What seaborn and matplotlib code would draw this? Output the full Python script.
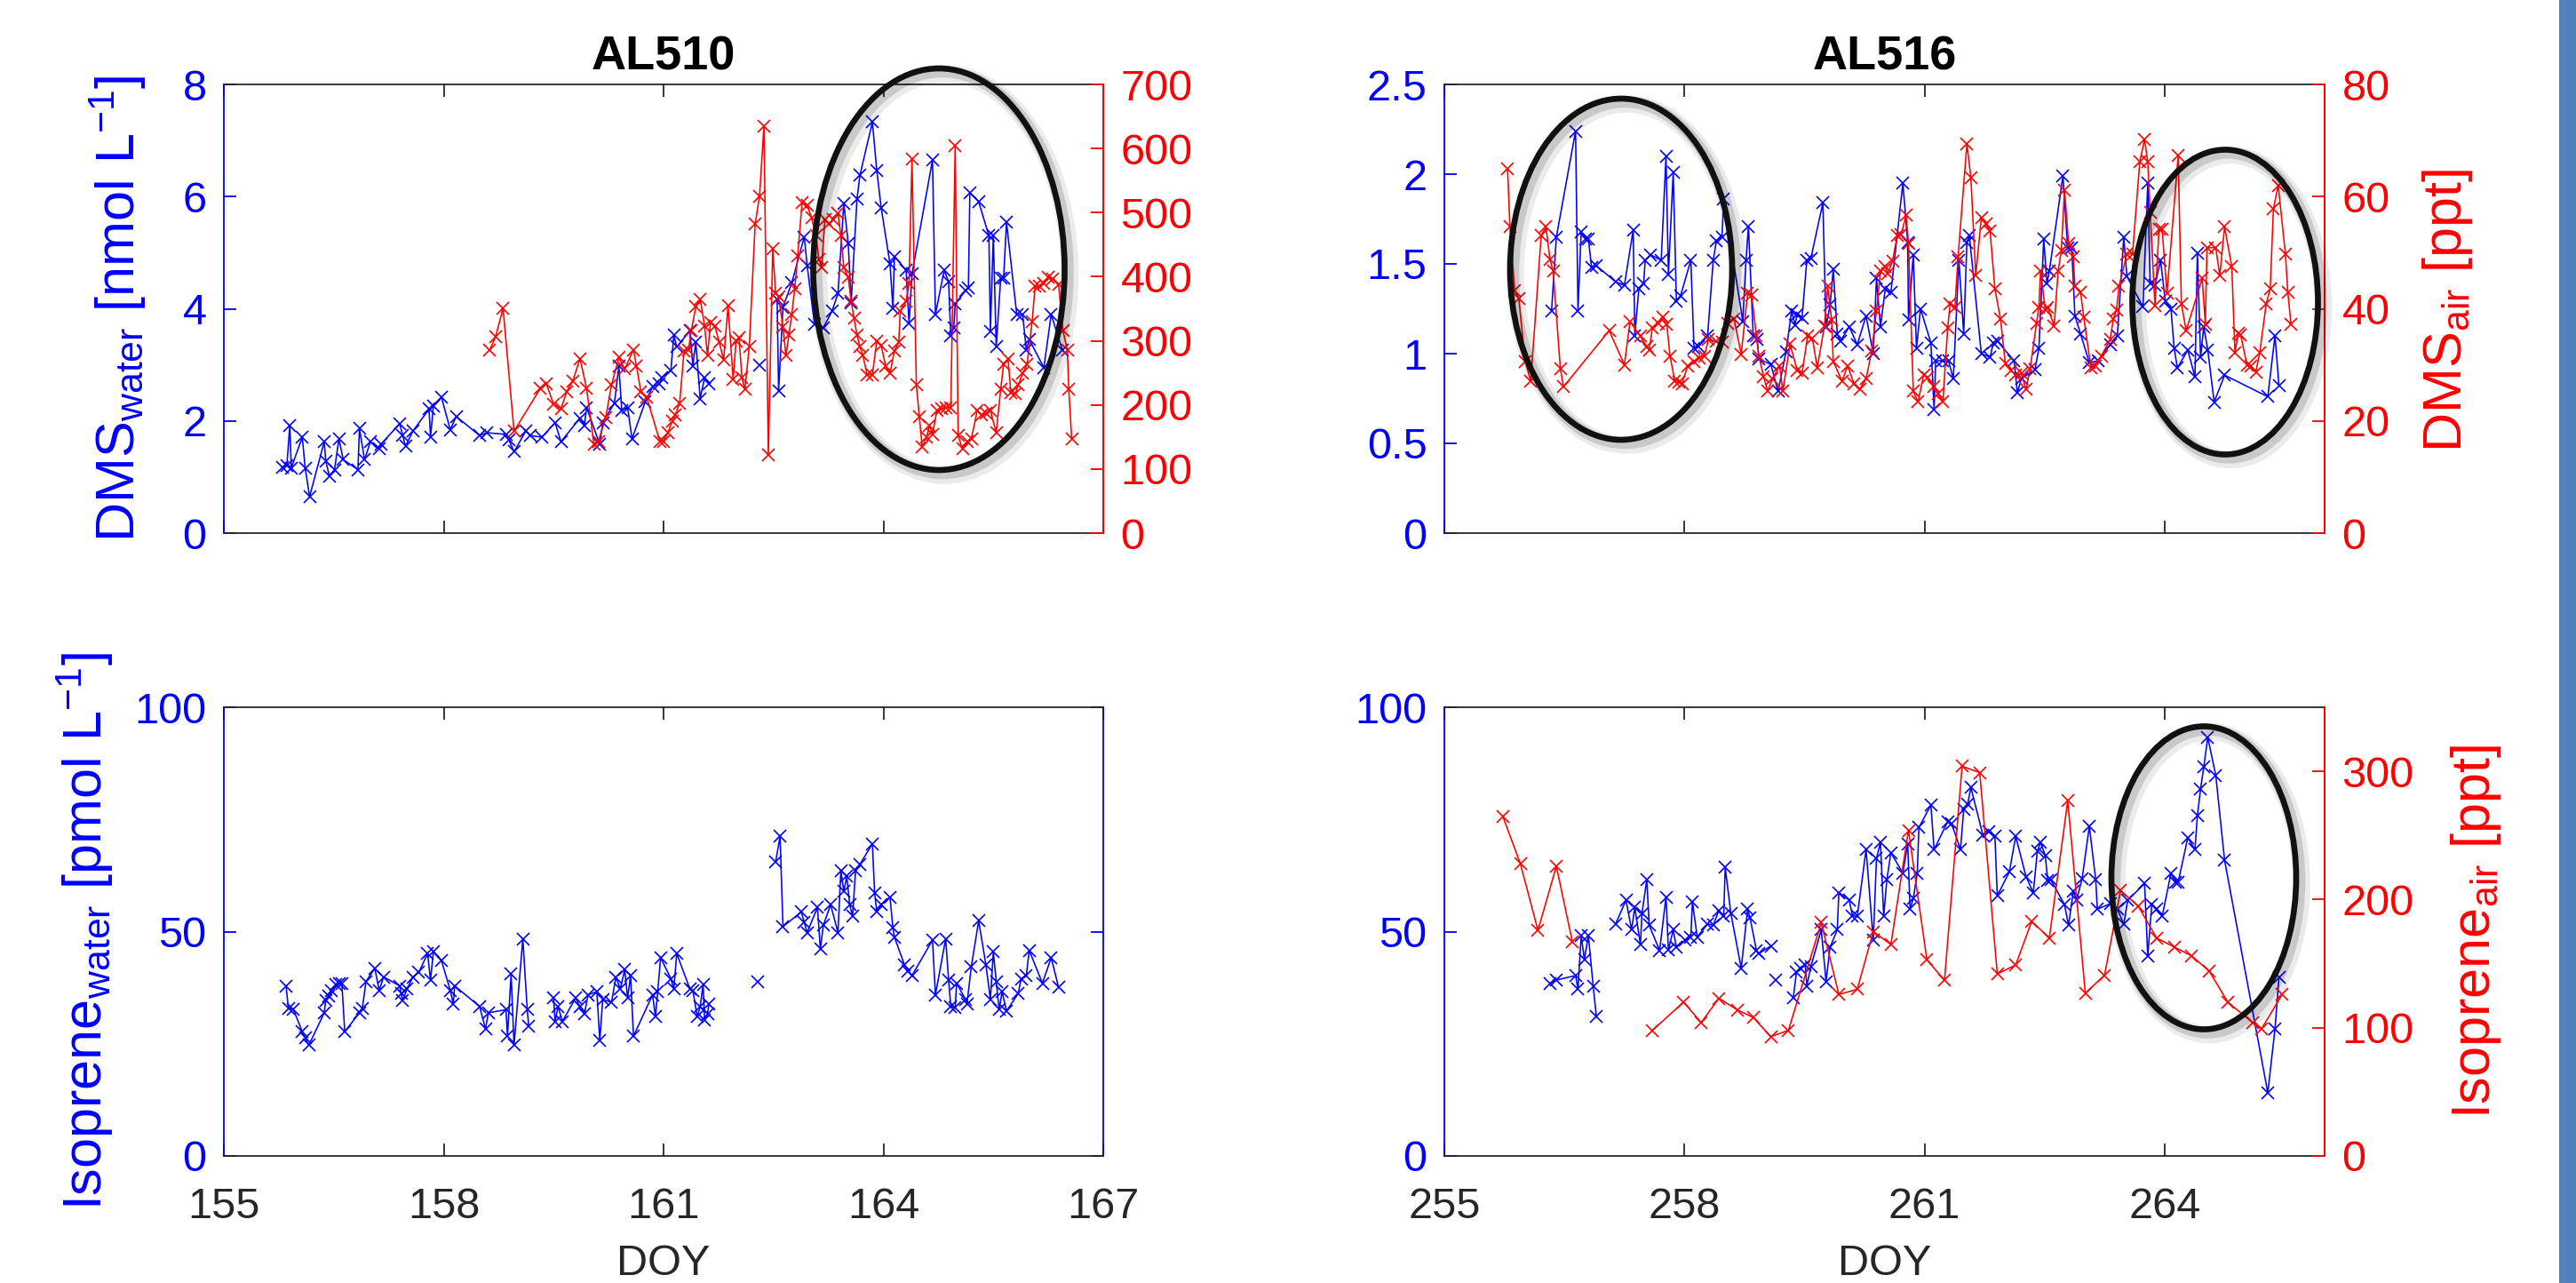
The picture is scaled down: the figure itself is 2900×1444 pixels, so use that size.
import numpy as np
import pandas as pd
import matplotlib
matplotlib.use("Agg")
import matplotlib.pyplot as plt
import seaborn as sns
from matplotlib.patches import Ellipse, Rectangle

nan = np.nan

# ---------------- AL510 DMS ----------------
al510_dms_water_doy = [155.80, 155.86, 155.90, 155.92, 156.07, 156.11, 156.17, 156.37, 156.39, 156.44,
    156.51, 156.57, 156.63, 156.83, 156.85, 156.92, 157.00, 157.12, 157.14, 157.40,
    157.44, 157.48, 157.58, 157.80, 157.82, 157.86, 157.97, 158.09, 158.17, 158.49,
    158.59, 158.85, 158.89, 158.96, 159.12, 159.18, 159.34, 159.52, 159.60, 159.86,
    159.92, 159.95, 160.13, 160.17, 160.33, 160.39, 160.43, 160.51, 160.57, 160.75,
    160.85, 160.94, 160.98, 161.10, 161.14, 161.18, 161.36, 161.40, 161.44, 161.50,
    161.56, 161.62, nan, 162.31, nan, 162.55, 162.57, 162.63, 162.75, 162.92,
    162.96, 163.06, 163.18, 163.30, 163.38, 163.46, 163.52, 163.56, 163.64, 163.68,
    163.85, 163.91, 163.97, 164.09, 164.13, 164.15, 164.31, 164.35, 164.39, 164.67,
    164.71, 164.83, 164.89, 164.92, 164.96, 164.98, 165.12, 165.16, 165.18, 165.30,
    165.44, 165.46, 165.50, 165.54, 165.60, 165.64, 165.68, 165.82, 165.90, 165.95,
    165.99, 166.19, 166.29, 166.44]
al510_dms_water = [1.18, 1.21, 1.92, 1.16, 1.71, 1.16, 0.65, 1.63, 1.29, 1.02,
    1.13, 1.68, 1.31, 1.13, 1.87, 1.31, 1.63, 1.50, 1.58, 1.95,
    1.74, 1.55, 1.82, 2.21, 1.71, 2.27, 2.42, 1.84, 2.08, 1.74,
    1.79, 1.76, 1.66, 1.45, 1.82, 1.74, 1.71, 1.97, 1.63, 2.05,
    1.92, 2.24, 1.58, 1.97, 2.32, 2.98, 2.19, 2.24, 1.68, 2.34,
    2.61, 2.66, 2.77, 2.90, 3.53, 3.32, 3.61, 2.98, 3.40, 2.40,
    2.77, 2.66, nan, 3.00, nan, 4.17, 2.53, 4.03, 4.46, 5.28,
    4.77, 3.72, 3.66, 3.96, 4.27, 5.88, 5.17, 4.11, 5.96, 6.38,
    7.33, 6.46, 5.80, 4.80, 4.01, 4.93, 4.69, 3.74, 4.62, 6.65,
    3.90, 4.69, 4.48, 3.51, 3.66, 4.09, 4.32, 4.38, 6.07, 5.91,
    5.30, 3.59, 5.30, 3.32, 4.54, 4.54, 5.54, 3.90, 3.90, 3.27,
    3.45, 2.95, 3.90, 3.27]

al510_dms_air_doy = [158.63, 158.71, 158.81, 158.96, 159.32, 159.40, 159.50, 159.60, 159.68, 159.76,
    159.86, 159.95, 160.05, 160.11, 160.21, 160.29, 160.39, 160.47, 160.59, 160.63,
    160.69, 160.77, 160.95, 161.00, 161.06, 161.12, 161.16, 161.22, 161.28, 161.34,
    161.38, 161.44, 161.50, 161.56, 161.60, 161.64, 161.70, 161.76, 161.82, 161.88,
    161.95, 161.99, 162.03, 162.07, 162.11, 162.17, 162.25, 162.31, 162.37, 162.43,
    162.49, 162.53, 162.57, 162.63, 162.67, 162.71, 162.75, 162.79, 162.83, 162.89,
    162.96, 163.02, 163.08, 163.12, 163.16, 163.20, 163.26, 163.32, 163.38, 163.42,
    163.46, 163.52, 163.56, 163.60, 163.64, 163.68, 163.72, 163.78, 163.85, 163.91,
    163.97, 164.03, 164.09, 164.15, 164.21, 164.23, 164.31, 164.35, 164.39, 164.45,
    164.49, 164.53, 164.59, 164.63, 164.67, 164.73, 164.79, 164.85, 164.92, 164.98,
    165.02, 165.08, 165.14, 165.20, 165.28, 165.34, 165.40, 165.46, 165.54, 165.60,
    165.64, 165.70, 165.74, 165.80, 165.84, 165.90, 165.96, 166.03, 166.07, 166.13,
    166.19, 166.25, 166.31, 166.39, 166.45, 166.51, 166.53, 166.57]
al510_dms_air = [286, 307, 351, 159, 226, 233, 201, 194, 221, 237,
    272, 226, 138, 143, 180, 231, 274, 256, 286, 261,
    221, 212, 143, 143, 157, 175, 184, 203, 284, 286,
    316, 353, 365, 323, 277, 328, 323, 298, 270, 355,
    240, 300, 305, 242, 224, 291, 482, 526, 635, 122,
    443, 374, 369, 321, 277, 309, 341, 381, 432, 515,
    512, 492, 464, 427, 415, 489, 482, 489, 499, 464,
    415, 399, 362, 335, 309, 291, 277, 247, 247, 300,
    293, 261, 249, 284, 298, 346, 362, 390, 584, 231,
    182, 134, 150, 168, 154, 191, 194, 196, 196, 605,
    152, 131, 143, 147, 191, 184, 187, 191, 157, 224,
    263, 272, 219, 217, 231, 249, 263, 330, 385, 385,
    390, 399, 397, 388, 316, 286, 224, 147]

# ---------------- AL516 DMS ----------------
al516_dms_water_doy = [256.34, 256.40, 256.64, 256.67, 256.71, 256.77, 256.80, 256.84, 256.90, 257.14,
    257.25, 257.36, 257.38, 257.43, 257.49, 257.51, 257.58, 257.71, 257.77, 257.80,
    257.86, 257.90, 257.95, 258.08, 258.12, 258.17, 258.29, 258.36, 258.40, 258.47,
    258.49, 258.73, 258.77, 258.80, 258.86, 258.91, 258.93, 259.08, 259.17, 259.27,
    259.34, 259.38, 259.41, 259.47, 259.53, 259.58, 259.73, 259.77, 259.82, 259.86,
    259.91, 259.95, 260.06, 260.16, 260.27, 260.36, 260.40, 260.45, 260.51, 260.58,
    260.73, 260.79, 260.80, 260.86, 260.90, 260.95, 261.08, 261.12, 261.14, 261.23,
    261.30, 261.36, 261.43, 261.49, 261.53, 261.56, 261.71, 261.82, 261.86, 261.91,
    262.12, 262.16, 262.21, 262.38, 262.43, 262.49, 262.53, 262.56, 262.73, 262.79,
    262.84, 262.88, 262.95, 263.06, 263.17, 263.32, 263.41, 263.49, 263.53, 263.73,
    263.79, 263.82, 263.88, 263.95, 264.01, 264.08, 264.12, 264.16, 264.29, 264.38,
    264.41, 264.45, 264.49, 264.54, 264.62, 264.75, 265.29, 265.38, 265.43]
al516_dms_water = [1.24, 1.65, 2.24, 1.24, 1.68, 1.64, 1.64, 1.48, 1.49, 1.40,
    1.38, 1.69, 1.10, 1.36, 1.39, 1.52, 1.55, 1.52, 2.10, 1.44,
    2.01, 1.29, 1.32, 1.52, 1.03, 1.04, 1.10, 1.52, 1.63, 1.65,
    1.86, 1.18, 1.52, 1.71, 1.10, 1.08, 0.97, 0.94, 0.79, 1.01,
    1.24, 1.16, 1.22, 1.20, 1.52, 1.53, 1.84, 1.15, 1.27, 1.47,
    1.11, 1.07, 1.15, 1.05, 1.21, 1.00, 1.42, 1.15, 1.36, 1.34,
    1.95, 1.62, 1.19, 1.55, 1.03, 1.25, 1.06, 0.69, 0.96, 0.96,
    0.96, 0.86, 1.52, 1.11, 1.62, 1.66, 1.00, 0.98, 1.06, 1.07,
    0.96, 0.78, 0.86, 0.91, 1.03, 1.64, 1.39, 1.46, 1.99, 1.59,
    1.59, 1.21, 1.11, 0.95, 0.96, 1.05, 1.10, 1.65, 1.43, 1.26,
    1.95, 1.39, 1.38, 1.52, 1.29, 1.25, 1.03, 0.92, 1.02, 0.87,
    1.56, 0.98, 1.15, 1.02, 0.73, 0.88, 0.76, 1.10, 0.82]

al516_dms_air_doy = [255.79, 255.82, 255.88, 255.93, 256.01, 256.08, 256.21, 256.27, 256.32, 256.36,
    256.45, 256.49, 257.06, 257.25, 257.32, 257.45, 257.53, 257.56, 257.60, 257.67,
    257.73, 257.78, 257.82, 257.88, 257.93, 257.97, 258.04, 258.12, 258.19, 258.25,
    258.30, 258.40, 258.47, 258.54, 258.62, 258.71, 258.79, 258.84, 258.90, 258.93,
    258.99, 259.04, 259.10, 259.19, 259.23, 259.32, 259.41, 259.47, 259.54, 259.60,
    259.66, 259.75, 259.79, 259.84, 259.86, 259.97, 260.04, 260.12, 260.19, 260.27,
    260.34, 260.40, 260.45, 260.51, 260.54, 260.60, 260.66, 260.71, 260.77, 260.80,
    260.86, 260.92, 260.99, 261.04, 261.12, 261.17, 261.23, 261.29, 261.32, 261.38,
    261.42, 261.53, 261.58, 261.64, 261.71, 261.77, 261.82, 261.88, 261.95, 262.01,
    262.08, 262.14, 262.21, 262.27, 262.32, 262.40, 262.43, 262.45, 262.51, 262.54,
    262.62, 262.67, 262.71, 262.75, 262.80, 262.86, 262.88, 262.95, 262.99, 263.08,
    263.14, 263.21, 263.32, 263.36, 263.40, 263.43, 263.53, 263.60, 263.69, 263.75,
    263.79, 263.82, 263.88, 263.93, 263.97, 264.03, 264.17, 264.21, 264.27, 264.47,
    264.51, 264.53, 264.64, 264.69, 264.75, 264.84, 264.88, 264.92, 264.95, 265.03,
    265.08, 265.14, 265.19, 265.27, 265.32, 265.36, 265.42, 265.51, 265.54, 265.58]
al516_dms_air = [64.9, 54.6, 43.2, 41.9, 30.6, 27.1, 53.0, 54.6, 48.8, 46.7,
    29.3, 26.1, 36.1, 30.0, 37.7, 35.1, 33.2, 32.7, 36.6, 37.4,
    38.5, 37.2, 31.6, 27.1, 26.9, 26.6, 29.8, 30.6, 31.2, 31.6,
    34.5, 34.2, 34.0, 37.4, 38.2, 31.9, 42.7, 42.5, 35.1, 31.6,
    27.9, 25.3, 27.5, 29.8, 25.3, 33.7, 29.0, 28.5, 35.1, 34.7,
    29.5, 36.9, 44.0, 38.0, 30.6, 27.1, 29.8, 26.6, 25.6, 27.5,
    32.4, 39.6, 46.7, 47.5, 46.2, 48.5, 53.0, 53.3, 56.7, 51.7,
    25.3, 23.4, 28.2, 27.7, 26.1, 24.8, 23.4, 36.6, 40.9, 40.3,
    49.3, 69.4, 63.3, 45.9, 56.2, 55.1, 53.8, 43.5, 38.2, 30.3,
    29.0, 28.2, 28.5, 25.6, 29.3, 37.4, 40.3, 46.7, 39.8, 40.3,
    36.9, 46.7, 50.4, 61.2, 51.7, 49.3, 44.0, 43.0, 38.5, 29.5,
    29.8, 31.6, 34.5, 38.2, 39.8, 44.0, 49.8, 49.8, 66.2, 70.2,
    66.2, 57.2, 40.6, 54.1, 54.1, 42.7, 67.3, 40.9, 36.1, 45.4,
    37.2, 50.9, 50.9, 45.9, 54.6, 47.5, 32.2, 35.6, 35.4, 30.0,
    29.8, 28.7, 32.2, 40.9, 43.5, 57.8, 62.0, 49.8, 43.0, 37.2]

# ---------------- AL510 isoprene ----------------
al510_iso_water_doy = [155.85, 155.88, 155.95, 156.07, 156.11, 156.16, 156.37, 156.39, 156.43, 156.47,
    156.53, 156.57, 156.61, 156.65, 156.85, 156.89, 156.94, 157.06, 157.12, 157.18,
    157.40, 157.42, 157.44, 157.50, 157.58, 157.66, 157.78, 157.82, 157.86, 157.97,
    158.09, 158.13, 158.15, 158.49, 158.57, 158.61, 158.85, 158.87, 158.92, 158.96,
    159.08, 159.14, 159.16, nan, 159.50, 159.52, 159.56, 159.62, 159.80, 159.86,
    159.92, 159.97, 160.09, 160.13, 160.17, 160.29, 160.35, 160.41, 160.47, 160.51,
    160.55, 160.59, 160.85, 160.89, 160.92, 160.96, 161.10, 161.14, 161.18, 161.36,
    161.40, 161.46, 161.50, 161.54, 161.56, 161.60, 161.62, nan, 162.29, nan,
    162.53, 162.59, 162.63, 162.88, 162.92, 162.96, 163.10, 163.14, 163.18, 163.28,
    163.38, 163.42, 163.46, 163.50, 163.54, 163.58, 163.62, 163.68, 163.85, 163.88,
    163.91, 163.97, 164.09, 164.13, 164.15, 164.29, 164.33, 164.39, 164.67, 164.71,
    164.85, 164.89, 164.92, 164.98, 165.00, 165.12, 165.14, 165.20, 165.30, 165.40,
    165.46, 165.50, 165.54, 165.58, 165.62, 165.68, 165.84, 165.88, 165.95, 165.99,
    166.17, 166.29, 166.39]
al510_iso_water = [37.8, 32.9, 32.6, 27.7, 26.3, 24.7, 31.9, 34.6, 35.6, 36.9,
    38.2, 38.5, 38.5, 27.7, 31.9, 32.9, 38.9, 41.8, 36.9, 39.9,
    37.9, 36.2, 34.6, 37.2, 39.9, 40.9, 45.1, 39.2, 45.5, 43.5,
    36.9, 33.9, 37.9, 33.3, 28.3, 31.9, 32.6, 26.7, 40.5, 24.7,
    48.4, 32.6, 29.0, nan, 35.2, 30.0, 33.3, 30.0, 35.2, 33.3,
    31.6, 35.9, 36.6, 25.7, 34.9, 34.2, 39.9, 37.2, 41.5, 35.2,
    40.2, 26.7, 35.9, 31.0, 36.6, 44.2, 39.5, 37.2, 45.1, 37.2,
    36.9, 31.0, 33.3, 38.2, 30.3, 31.6, 33.9, nan, 38.9, nan,
    65.6, 71.2, 51.1, 54.4, 52.1, 49.8, 55.4, 46.1, 51.4, 56.0,
    49.8, 63.6, 59.0, 62.3, 56.0, 53.4, 63.6, 65.0, 69.6, 58.7,
    54.4, 56.0, 57.7, 50.8, 48.8, 42.5, 41.2, 40.2, 48.1, 35.9,
    48.4, 39.2, 33.3, 33.0, 38.5, 34.9, 33.9, 42.2, 52.4, 42.5,
    34.9, 45.5, 38.9, 32.6, 36.6, 32.3, 36.2, 39.5, 40.2, 45.8,
    38.5, 44.2, 37.6]

# ---------------- AL516 isoprene ----------------
al516_iso_water_doy = [256.32, 256.40, 256.64, 256.67, 256.71, 256.75, 256.80, 256.86, 256.90, nan,
    257.14, 257.27, 257.34, 257.38, 257.45, 257.47, 257.53, 257.56, 257.69, 257.77,
    257.80, 257.86, 257.90, 258.01, 258.08, 258.10, 258.16, 258.29, 258.36, 258.43,
    258.49, 258.51, 258.58, 258.71, 258.79, 258.82, 258.90, 258.93, 259.08, nan,
    259.14, nan, 259.36, 259.40, 259.45, 259.51, 259.53, 259.58, 259.71, 259.77,
    259.82, 259.91, 259.93, 260.06, 260.10, 260.16, 260.27, 260.36, 260.40, 260.45,
    260.49, 260.53, 260.58, 260.73, 260.79, 260.82, 260.86, 260.91, 260.93, 261.08,
    261.12, 261.29, 261.34, 261.45, 261.49, 261.54, 261.58, 261.73, 261.80, 261.88,
    261.91, 262.06, 262.14, 262.27, 262.36, 262.41, 262.45, 262.51, 262.54, 262.58,
    262.75, 262.80, 262.86, 262.90, 262.97, 263.06, 263.14, 263.16, 263.32, 263.41,
    263.49, 263.54, 263.75, 263.79, 263.84, 263.90, 263.97, 264.08, 264.14, 264.17,
    264.29, 264.38, 264.41, 264.45, 264.49, 264.54, 264.64, 264.75, 265.29, 265.38,
    265.43]
al516_iso_water = [38.5, 39.2, 40.2, 37.2, 49.1, 43.8, 49.1, 37.9, 31.0, nan,
    51.7, 57.0, 50.4, 55.4, 47.1, 54.1, 61.6, 51.4, 45.8, 57.7,
    45.9, 50.4, 46.5, 48.1, 48.8, 56.7, 48.8, 51.7, 51.4, 54.7,
    53.4, 64.3, 54.1, 41.8, 55.0, 53.1, 45.8, 45.1, 46.8, nan,
    39.2, nan, 35.2, 40.9, 41.8, 42.5, 37.9, 42.2, 50.4, 38.9,
    46.5, 50.4, 58.7, 57.0, 53.5, 53.4, 68.3, 48.1, 66.3, 69.9,
    53.4, 61.6, 67.6, 63.0, 69.6, 55.0, 57.4, 63.0, 73.2, 78.2,
    68.3, 74.5, 74.0, 68.3, 77.2, 78.5, 82.1, 71.5, 72.2, 71.2,
    58.0, 63.3, 71.2, 62.2, 58.7, 67.9, 69.9, 66.9, 61.3, 61.5,
    56.0, 51.4, 59.0, 57.0, 61.8, 73.5, 61.5, 55.0, 56.2, 55.0,
    51.6, 57.0, 60.7, 44.5, 56.0, 55.0, 53.4, 63.0, 61.0, 61.0,
    70.9, 68.3, 75.8, 81.8, 86.7, 93.3, 84.8, 65.9, 14.1, 28.3,
    39.9]

al516_iso_air_doy = [255.73, 255.95, 256.17, 256.40, 256.60, nan, 257.60, 257.99, 258.21, 258.43,
    258.66, 258.86, 259.08, 259.30, 259.71, 259.93, 260.16, 260.36, 260.58, 260.80,
    261.03, 261.25, 261.47, 261.69, 261.91, 262.14, 262.34, 262.56, 262.79, 263.01,
    263.25, 263.45, 263.67, 263.90, 264.12, 264.34, 264.56, 264.79, 265.10, 265.21,
    265.47]
al516_iso_air = [265, 228, 176, 226, 167, nan, 98, 120, 104, 123,
    114, 108, 93, 98, 182, 126, 130, 175, 165, 254,
    153, 137, 304, 299, 142, 149, 183, 170, 277, 127,
    141, 207, 195, 170, 163, 156, 144, 120, 104, 99,
    126]

# tick values / labels
x510_ticks = [155, 158, 161, 164, 167]
x516_ticks = [255, 258, 261, 264]
dms510_ticks = [0, 2, 4, 6, 8]
dmsair510_ticks = [0, 100, 200, 300, 400, 500, 600, 700]
dms516_ticks = [0, 0.5, 1, 1.5, 2, 2.5]
dms516_labels = ["0", "0.5", "1", "1.5", "2", "2.5"]
dmsair516_ticks = [0, 20, 40, 60, 80]
iso_ticks = [0, 50, 100]
isoair_ticks = [0, 100, 200, 300]

# ---------------- style ----------------
plt.rcParams['font.family'] = ['Liberation Sans', 'DejaVu Sans']
plt.rcParams['mathtext.fontset'] = 'custom'
plt.rcParams['mathtext.rm'] = 'Liberation Sans'
plt.rcParams['mathtext.it'] = 'Liberation Sans:italic'
plt.rcParams['mathtext.bf'] = 'Liberation Sans:bold'

BLUE = '#0000FF'
RED = '#FF0000'
DARK = '#262626'
W, H = 2900, 1444
TICK_FS = 35
LAB_FS = 44

fig = plt.figure(figsize=(W / 100, H / 100), dpi=100)


def box(l, t, r, b):
    return [l / W, 1 - b / H, (r - l) / W, (b - t) / H]


def draw(ax, x, y, color):
    df = pd.DataFrame({'doy': x, 'val': y})
    df['seg'] = df['val'].isna().cumsum()
    df = df.dropna()
    sns.lineplot(data=df, x='doy', y='val', units='seg', estimator=None, sort=False,
                 color=color, marker='x', markersize=9.5, markeredgewidth=1.2,
                 markeredgecolor=color, linewidth=1.15, ax=ax, legend=False)
    ax.set_xlabel('')
    ax.set_ylabel('')


def base_style(ax, left_color, right_color, xlabels):
    for s in ['top', 'bottom']:
        ax.spines[s].set_color(DARK)
        ax.spines[s].set_linewidth(1.3)
    ax.spines['left'].set_color(left_color)
    ax.spines['left'].set_linewidth(1.3)
    ax.spines['right'].set_color(right_color)
    ax.spines['right'].set_linewidth(1.3)
    ax.tick_params(axis='x', direction='in', length=10, width=1.3, colors=DARK,
                   top=True, bottom=True, labelsize=TICK_FS, pad=25, labelbottom=xlabels)
    ax.tick_params(axis='y', direction='in', length=10, width=1.3, colors=left_color,
                   left=True, labelsize=TICK_FS, pad=14)
    ax.set_facecolor('white')


def twin_style(ax2, right_color):
    for s in ['top', 'bottom', 'left']:
        ax2.spines[s].set_visible(False)
    ax2.spines['right'].set_color(right_color)
    ax2.spines['right'].set_linewidth(1.3)
    ax2.tick_params(axis='y', direction='in', length=10, width=1.3, colors=right_color,
                    right=True, labelsize=TICK_FS, pad=14)


# Panel 1: AL510 DMS
ax1 = fig.add_axes(box(252, 95, 1242, 600))
draw(ax1, al510_dms_water_doy, al510_dms_water, BLUE)
base_style(ax1, BLUE, RED, False)
ax1.set_xlim(155, 167); ax1.set_xticks(x510_ticks)
ax1.set_ylim(0, 8); ax1.set_yticks(dms510_ticks)
ax1.set_title('AL510', fontsize=39, fontweight='bold', color='black', pad=12)
ax1b = ax1.twinx()
draw(ax1b, al510_dms_air_doy, al510_dms_air, RED)
twin_style(ax1b, RED)
ax1b.set_ylim(0, 700); ax1b.set_yticks(dmsair510_ticks)
ax1b.set_xlim(155, 167)

# Panel 2: AL516 DMS
ax2 = fig.add_axes(box(1626, 95, 2617, 600))
draw(ax2, al516_dms_water_doy, al516_dms_water, BLUE)
base_style(ax2, BLUE, RED, False)
ax2.set_xlim(255, 266); ax2.set_xticks(x516_ticks)
ax2.set_ylim(0, 2.5); ax2.set_yticks(dms516_ticks, dms516_labels)
ax2.set_title('AL516', fontsize=39, fontweight='bold', color='black', pad=12)
ax2b = ax2.twinx()
draw(ax2b, al516_dms_air_doy, al516_dms_air, RED)
twin_style(ax2b, RED)
ax2b.set_ylim(0, 80); ax2b.set_yticks(dmsair516_ticks)
ax2b.set_xlim(255, 266)

# Panel 3: AL510 isoprene
ax3 = fig.add_axes(box(252, 796, 1242, 1301))
draw(ax3, al510_iso_water_doy, al510_iso_water, BLUE)
base_style(ax3, BLUE, BLUE, True)
ax3.tick_params(axis='y', right=True)
ax3.set_xlim(155, 167); ax3.set_xticks(x510_ticks)
ax3.set_ylim(0, 100); ax3.set_yticks(iso_ticks)
ax3.set_xlabel('DOY', fontsize=TICK_FS, color=DARK)
ax3.xaxis.set_label_coords(0.5, -0.196)

# Panel 4: AL516 isoprene
ax4 = fig.add_axes(box(1626, 796, 2617, 1301))
draw(ax4, al516_iso_water_doy, al516_iso_water, BLUE)
base_style(ax4, BLUE, RED, True)
ax4.set_xlim(255, 266); ax4.set_xticks(x516_ticks)
ax4.set_ylim(0, 100); ax4.set_yticks(iso_ticks)
ax4.set_xlabel('DOY', fontsize=TICK_FS, color=DARK)
ax4.xaxis.set_label_coords(0.5, -0.196)
ax4b = ax4.twinx()
draw(ax4b, al516_iso_air_doy, al516_iso_air, RED)
twin_style(ax4b, RED)
ax4b.set_ylim(0, 350); ax4b.set_yticks(isoair_ticks)
ax4b.set_xlim(255, 266)

# y labels
def ylab(x, y, s, color):
    fig.text(x / W, 1 - y / H, s, rotation=90, ha='center', va='center',
             fontsize=LAB_FS, color=color)

ylab(133, 347, r'DMS$_{\mathregular{water}}$ [nmol L$^{\mathregular{-1}}$]', BLUE)
ylab(2756, 349, r'DMS$_{\mathregular{air}}$ [ppt]', RED)
ylab(96, 1048, r'Isoprene$_{\mathregular{water}}$ [pmol L$^{\mathregular{-1}}$]', BLUE)
ylab(2787, 1048, r'Isoprene$_{\mathregular{air}}$ [ppt]', RED)

# highlight ellipses (figure pixel coordinates)
ellipses = [(1057, 303, 283, 452), (1825, 303, 250, 384), (2505, 340, 209, 343), (2481, 988, 208, 341)]
for cx, cy, w, h in ellipses:
    for off, lw, a in [(6, 14, 0.08), (4, 9, 0.14)]:
        fig.add_artist(Ellipse(((cx + off) / W, 1 - (cy + off) / H), w / W, h / H,
                               transform=fig.transFigure, fill=False,
                               edgecolor=(0, 0, 0, a), linewidth=lw))
    fig.add_artist(Ellipse((cx / W, 1 - cy / H), w / W, h / H, transform=fig.transFigure,
                           fill=False, edgecolor='#111111', linewidth=4.8))

# right-side blue bar
fig.add_artist(Rectangle((2881 / W, 0), 19 / W, 1, transform=fig.transFigure,
                         facecolor='#4F81BD', edgecolor='none'))

fig.savefig('out.png', dpi=100, facecolor='white')
